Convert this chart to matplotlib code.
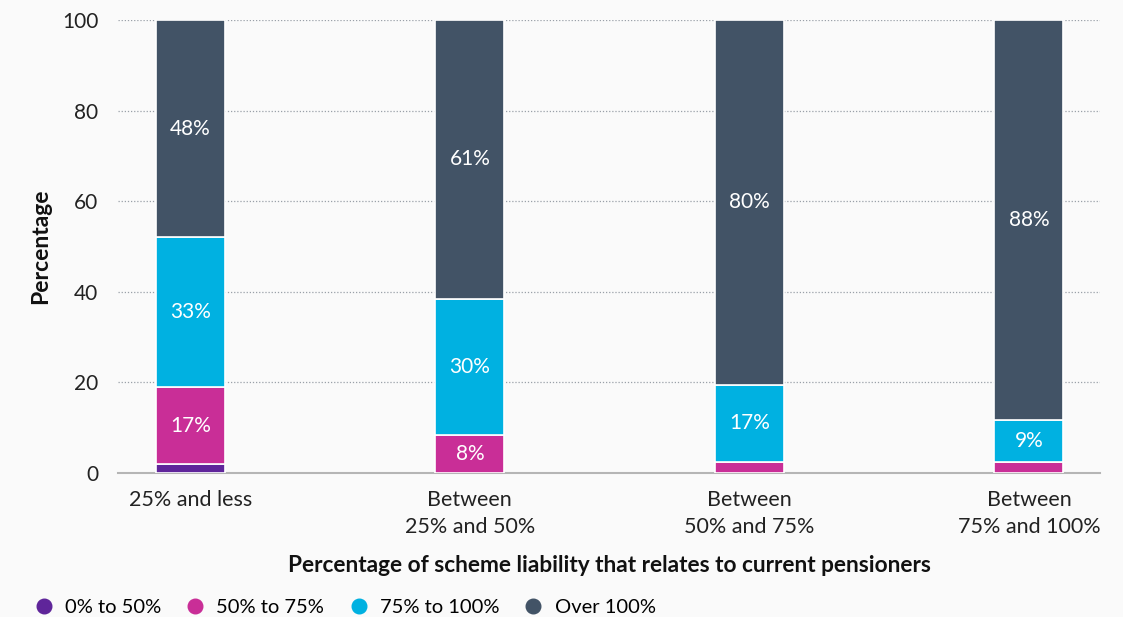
import matplotlib.pyplot as plt
from matplotlib.lines import Line2D

categories = ["25% and less", "Between\n25% and 50%", "Between\n50% and 75%", "Between\n75% and 100%"]
series_names = ["0% to 50%", "50% to 75%", "75% to 100%", "Over 100%"]
share_0_50 = [1.9, 0.0, 0.0, 0.0]
share_50_75 = [17.1, 8.4, 2.5, 2.4]
share_75_100 = [33.0, 30.1, 17.0, 9.2]
share_over_100 = [48.0, 61.45, 80.49, 88.4]
colors = ["#5f259a", "#c92e97", "#00b1e1", "#425366"]

plt.rcParams['font.family'] = ['Lato', 'DejaVu Sans']

fig = plt.figure(figsize=(11.23, 6.17), dpi=100)
fig.patch.set_facecolor("#fafafa")
ax = fig.add_axes([0.105, 0.2334, 0.8745, 0.7342])
ax.set_facecolor("#fafafa")

x = list(range(len(categories)))
width = 0.247
bottom = [0.0] * len(categories)
for values, name, color in zip([share_0_50, share_50_75, share_75_100, share_over_100], series_names, colors):
    ax.bar(x, values, width, bottom=bottom, color=color, edgecolor="white", linewidth=1.2, zorder=3)
    for i, v in enumerate(values):
        if v >= 5:
            ax.text(x[i], bottom[i] + v / 2, "%.0f%%" % v, ha="center", va="center",
                    color="white", fontsize=15, zorder=4)
    bottom = [b + v for b, v in zip(bottom, values)]

ax.set_xlim(-0.259, 3.254)
ax.set_ylim(0, 100)
ax.set_yticks([0, 20, 40, 60, 80, 100])
ax.set_xticks(x)
ax.set_xticklabels(categories, fontsize=15.5, color="#222222", linespacing=1.45)
ax.tick_params(axis="y", labelsize=15, colors="#222222", length=0, pad=14)
ax.tick_params(axis="x", length=0, pad=12)
ax.grid(axis="y", linestyle=(0, (1, 1.5)), color="#9aa0a8", linewidth=0.9, zorder=0)
for side in ["top", "right", "left"]:
    ax.spines[side].set_visible(False)
ax.spines["bottom"].set_color("#b5b5b5")
ax.spines["bottom"].set_linewidth(1.5)

ax.set_ylabel("Percentage", fontsize=16.5, fontweight="bold", color="#111111", labelpad=8)
ax.set_xlabel("Percentage of scheme liability that relates to current pensioners",
              fontsize=16.3, fontweight="bold", color="#111111", labelpad=13)

handles = [Line2D([0], [0], marker="o", linestyle="", markersize=10.5, markerfacecolor=c,
                  markeredgecolor=c) for c in colors]
fig.legend(handles, series_names, loc="lower left", bbox_to_anchor=(0.012, -0.028), ncol=4,
           frameon=False, fontsize=14.5, handletextpad=0.45, columnspacing=1.1,
           handlelength=1.2)

fig.savefig("out.png", dpi=100, facecolor=fig.get_facecolor())
